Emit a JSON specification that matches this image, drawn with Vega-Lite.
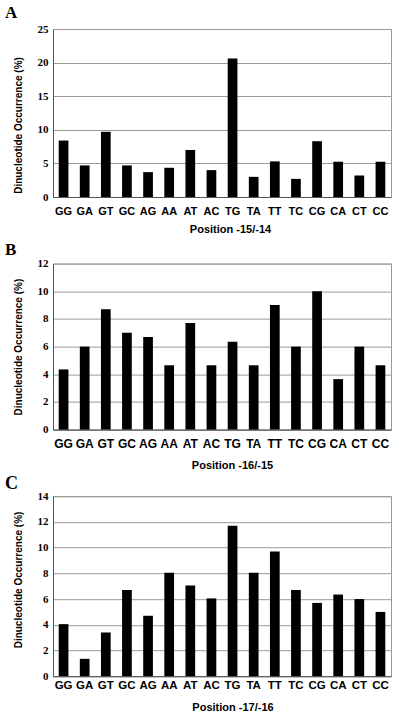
{
  "$schema": "https://vega.github.io/schema/vega-lite/v6.json",
  "background": "white",
  "padding": {"left": 4, "top": 3, "right": 5, "bottom": 2},
  "bounds": "flush",
  "spacing": 66.6,
  "config": {
    "view": {"stroke": "#9a9a9a", "strokeWidth": 1},
    "axis": {
      "domainColor": "#555",
      "gridColor": "#9a9a9a",
      "ticks": false,
      "tickSize": 0,
      "labelColor": "black",
      "titleColor": "black"
    },
    "axisX": {"grid": false, "labelAngle": 0, "labelFont": "Liberation Sans", "labelFontWeight": "bold", "labelFontSize": 11, "titleFont": "Liberation Sans", "titleFontWeight": "bold", "titleFontSize": 11, "titleAlign": "center", "titleBaseline": "alphabetic", "titleX": 177},
    "axisY": {"grid": true, "labelFont": "Liberation Serif", "labelFontWeight": "bold", "labelFontSize": 11, "labelPadding": 5, "titleFont": "Liberation Sans", "titleFontWeight": "bold", "titleFontSize": 10, "titleAlign": "center", "titleBaseline": "alphabetic", "titleAngle": -90, "titleX": -32},
    "title": {"font": "Liberation Serif", "fontWeight": "bold", "fontSize": 17, "color": "black", "anchor": "start", "frame": "group", "baseline": "alphabetic", "dx": -48}
  },
  "datasets": {
    "a": [
      {"pair": "GG", "pct": 8.4}, {"pair": "GA", "pct": 4.7}, {"pair": "GT", "pct": 9.7}, {"pair": "GC", "pct": 4.7},
      {"pair": "AG", "pct": 3.7}, {"pair": "AA", "pct": 4.35}, {"pair": "AT", "pct": 7.0}, {"pair": "AC", "pct": 4.0},
      {"pair": "TG", "pct": 20.6}, {"pair": "TA", "pct": 3.0}, {"pair": "TT", "pct": 5.3}, {"pair": "TC", "pct": 2.7},
      {"pair": "CG", "pct": 8.3}, {"pair": "CA", "pct": 5.25}, {"pair": "CT", "pct": 3.2}, {"pair": "CC", "pct": 5.25}
    ],
    "b": [
      {"pair": "GG", "pct": 4.35}, {"pair": "GA", "pct": 6.0}, {"pair": "GT", "pct": 8.7}, {"pair": "GC", "pct": 7.0},
      {"pair": "AG", "pct": 6.7}, {"pair": "AA", "pct": 4.65}, {"pair": "AT", "pct": 7.7}, {"pair": "AC", "pct": 4.65},
      {"pair": "TG", "pct": 6.35}, {"pair": "TA", "pct": 4.65}, {"pair": "TT", "pct": 9.0}, {"pair": "TC", "pct": 6.0},
      {"pair": "CG", "pct": 10.0}, {"pair": "CA", "pct": 3.65}, {"pair": "CT", "pct": 6.0}, {"pair": "CC", "pct": 4.65}
    ],
    "c": [
      {"pair": "GG", "pct": 4.05}, {"pair": "GA", "pct": 1.35}, {"pair": "GT", "pct": 3.4}, {"pair": "GC", "pct": 6.7},
      {"pair": "AG", "pct": 4.7}, {"pair": "AA", "pct": 8.05}, {"pair": "AT", "pct": 7.05}, {"pair": "AC", "pct": 6.05},
      {"pair": "TG", "pct": 11.7}, {"pair": "TA", "pct": 8.05}, {"pair": "TT", "pct": 9.7}, {"pair": "TC", "pct": 6.7},
      {"pair": "CG", "pct": 5.7}, {"pair": "CA", "pct": 6.35}, {"pair": "CT", "pct": 6.0}, {"pair": "CC", "pct": 5.0}
    ]
  },
  "vconcat": [
    {
      "width": 338, "height": 168,
      "title": {"text": "A", "offset": 1.4},
      "data": {"name": "a"},
      "mark": {"type": "bar", "color": "black"},
      "encoding": {
        "x": {"field": "pair", "type": "nominal", "sort": null, "scale": {"paddingInner": 0.54, "paddingOuter": 0.27},
              "axis": {"title": "Position -15/-14", "labelPadding": 8, "titleY": 35.3}},
        "y": {"field": "pct", "type": "quantitative", "scale": {"domain": [0, 25], "nice": false},
              "axis": {"values": [0, 5, 10, 15, 20, 25], "title": "Dinucleotide Occurrence (%)", "titleY": 96}}
      }
    },
    {
      "width": 338, "height": 166,
      "title": {"text": "B", "offset": -0.9},
      "data": {"name": "b"},
      "mark": {"type": "bar", "color": "black"},
      "encoding": {
        "x": {"field": "pair", "type": "nominal", "sort": null, "scale": {"paddingInner": 0.54, "paddingOuter": 0.27},
              "axis": {"title": "Position -16/-15", "labelPadding": 9, "labelFontSize": 12, "titleY": 38.7, "titleX": 179}},
        "y": {"field": "pct", "type": "quantitative", "scale": {"domain": [0, 12], "nice": false},
              "axis": {"values": [0, 2, 4, 6, 8, 10, 12], "title": "Dinucleotide Occurrence (%)", "titleY": 83}}
      }
    },
    {
      "width": 338, "height": 180,
      "title": {"text": "C", "offset": -3.1, "fontSize": 18},
      "data": {"name": "c"},
      "mark": {"type": "bar", "color": "black"},
      "encoding": {
        "x": {"field": "pair", "type": "nominal", "sort": null, "scale": {"paddingInner": 0.54, "paddingOuter": 0.27},
              "axis": {"title": "Position -17/-16", "labelPadding": 3, "labelFontSize": 11.5, "titleY": 34, "titleX": 179.5}},
        "y": {"field": "pct", "type": "quantitative", "scale": {"domain": [0, 14], "nice": false},
              "axis": {"values": [0, 2, 4, 6, 8, 10, 12, 14], "title": "Dinucleotide Occurrence (%)", "titleY": 83.3}}
      }
    }
  ]
}
